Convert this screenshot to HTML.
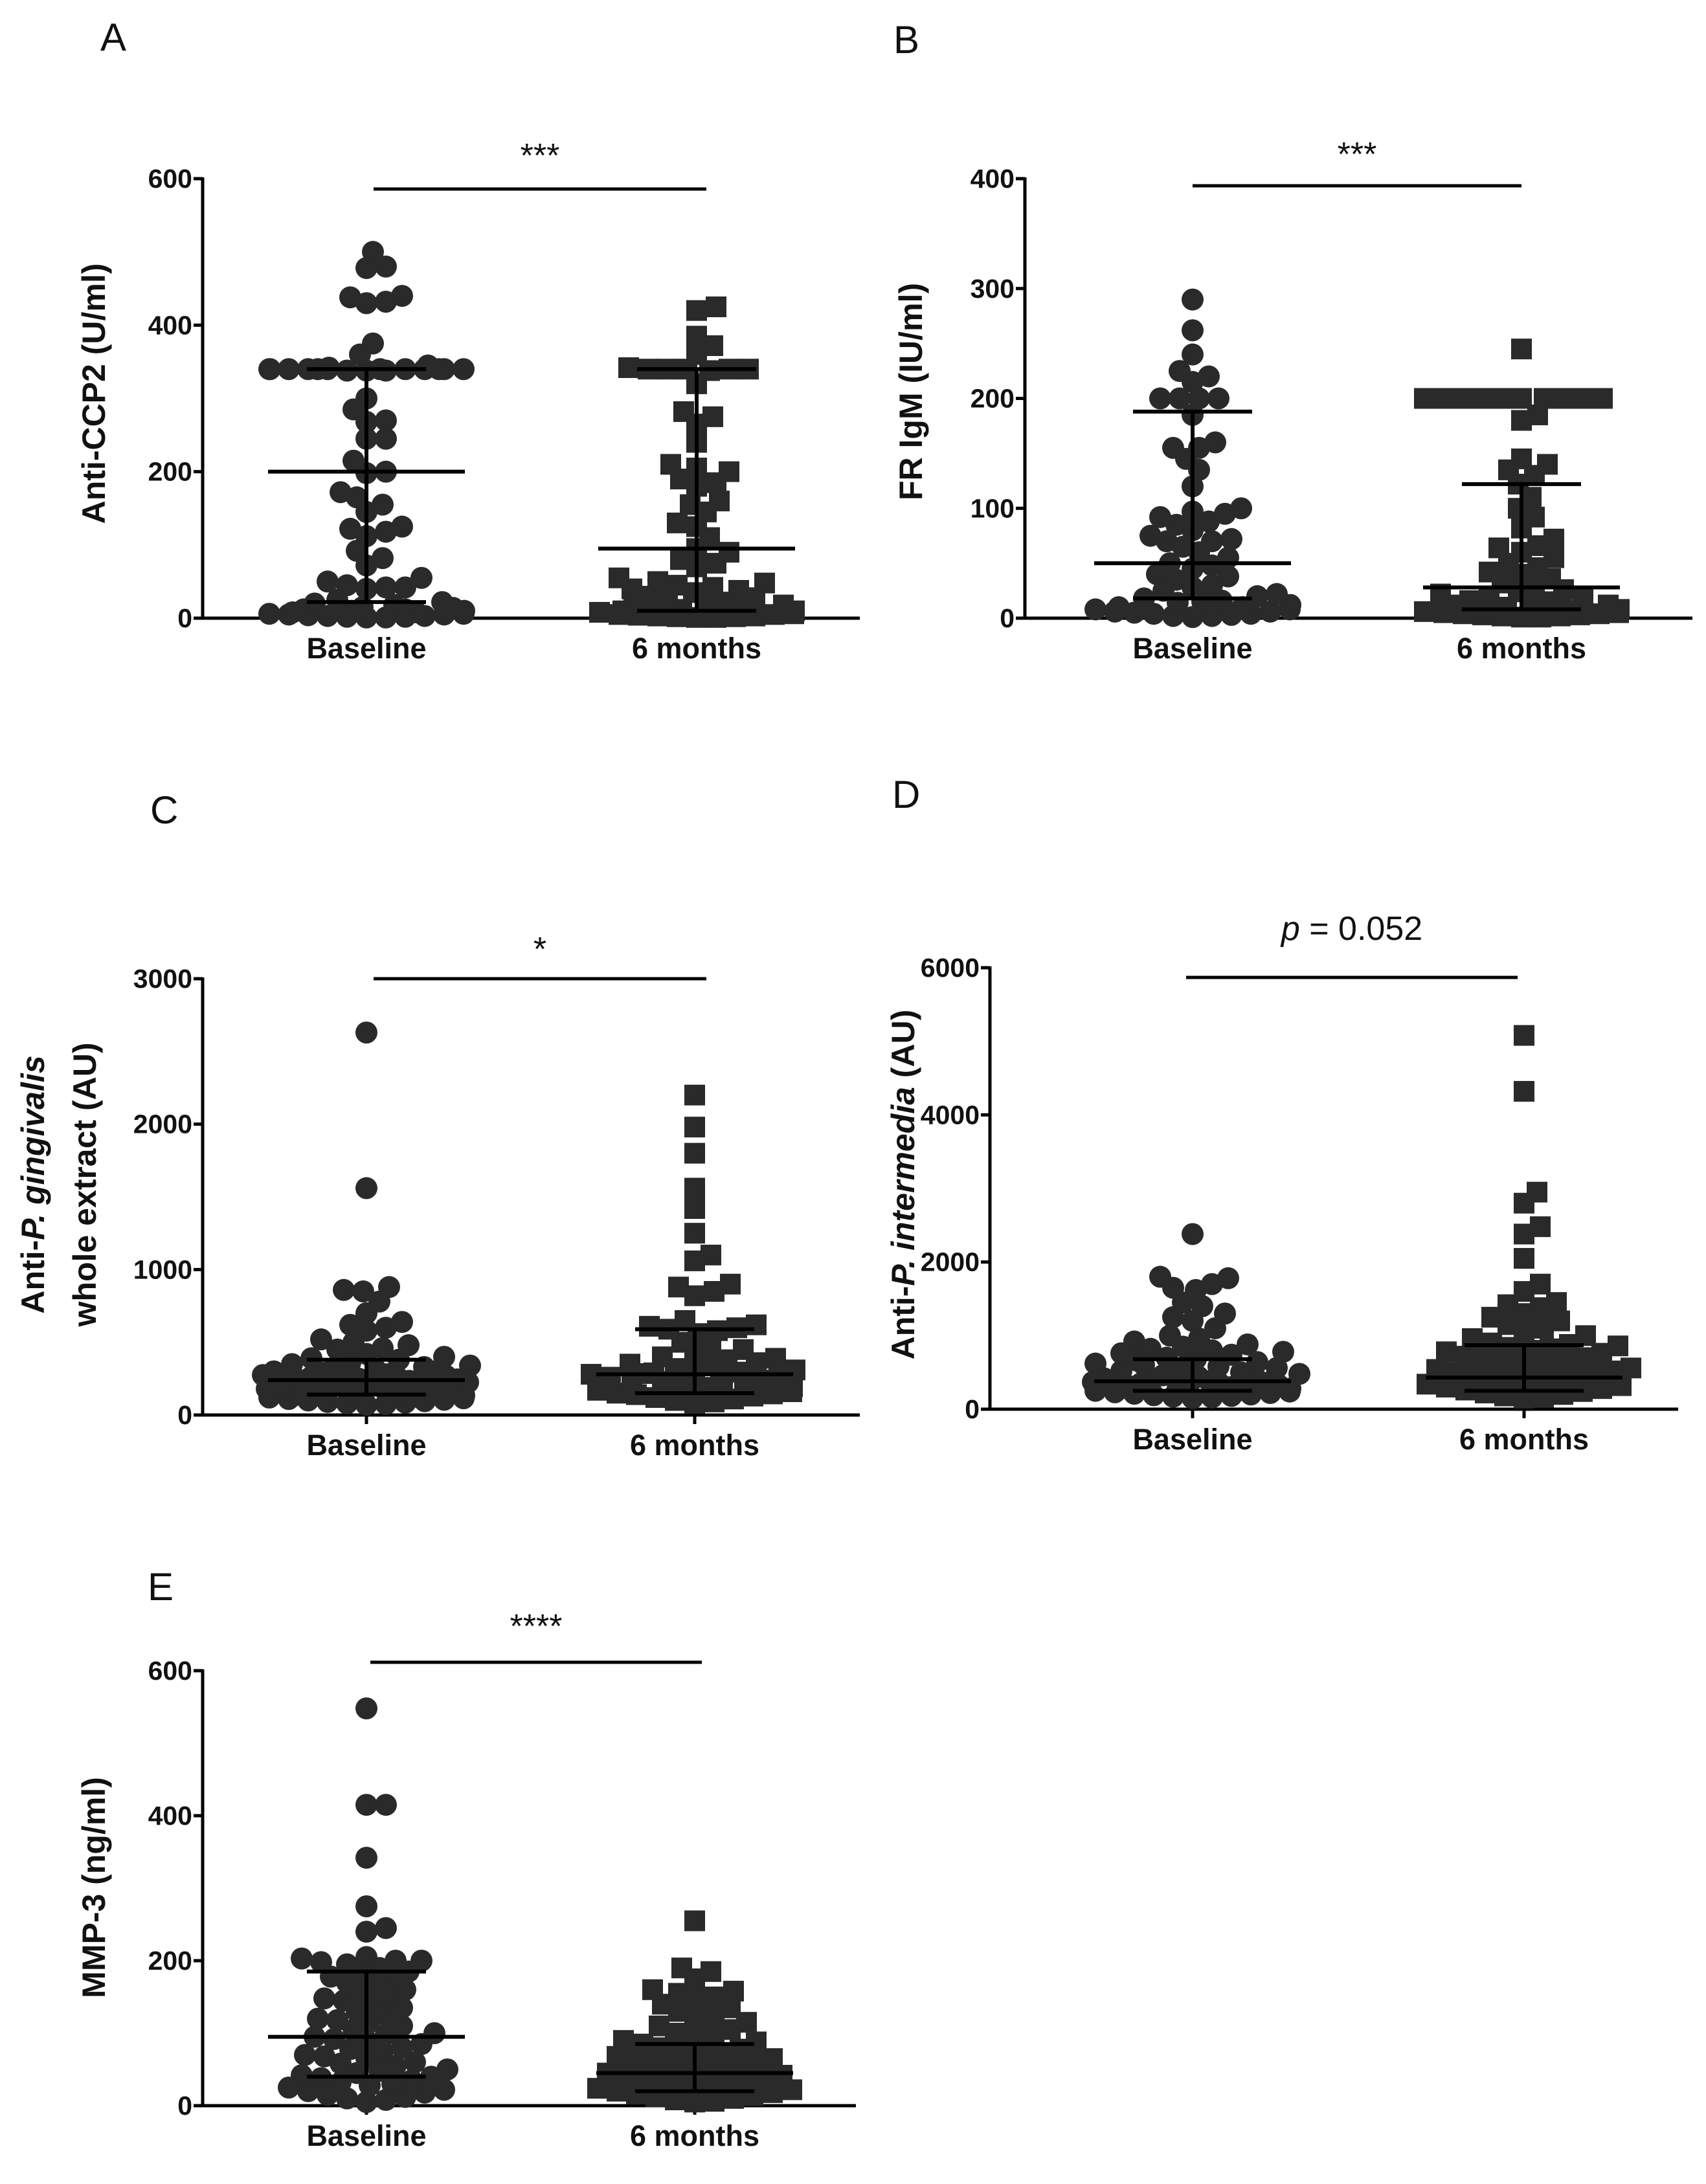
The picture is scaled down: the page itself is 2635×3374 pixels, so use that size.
<!DOCTYPE html>
<html><head><meta charset="utf-8">
<style>
html,body{margin:0;padding:0;background:#fff;}
svg{display:block;font-family:"Liberation Sans",Arial,sans-serif;}
</style></head>
<body>
<svg id="fig" width="2635" height="3374" viewBox="0 0 2635 3374" xmlns="http://www.w3.org/2000/svg"></svg>
<script>
// ---- Data ----
const categories = ["Baseline", "6 months"];
const ccpBaseline = [500,480,478,440,438,432,430,375,360,345,342,340,340,340,340,340,340,340,340,340,340,340,340,338,338,338,300,285,270,268,245,245,215,200,198,172,165,155,145,125,122,118,112,92,82,72,55,50,45,42,42,40,25,22,20,18,15,14,12,12,10,10,8,8,6,6,5,5,4,3,3,2,2,1,1];
const ccpMonths6 = [425,420,385,372,360,342,340,340,340,340,340,338,320,282,275,265,240,210,205,200,190,185,180,160,155,145,130,125,110,95,90,80,75,70,55,50,48,45,42,40,38,35,30,28,25,22,20,18,16,15,12,10,10,8,8,6,5,5,4,3,3,2,2,1,1];
const rfBaseline = [290,262,240,225,220,215,200,200,200,200,185,160,155,155,145,135,120,100,97,95,92,88,85,80,75,72,70,70,65,60,55,50,48,45,40,38,35,30,28,25,22,20,18,16,15,14,12,10,10,8,8,6,6,5,4,4,3,2,2,1];
const rfMonths6 = [245,200,200,200,200,200,200,200,200,200,200,185,180,145,140,135,130,122,110,100,92,82,72,66,64,60,55,50,46,42,40,36,32,30,26,24,22,20,18,16,15,14,12,12,10,10,8,8,7,6,5,5,4,4,3,3,2,2,1,1];
const pgBaseline = [2630,1560,880,860,850,780,700,640,620,600,580,520,500,480,460,450,420,400,390,380,360,350,340,330,320,310,300,300,290,280,275,270,260,255,250,245,240,235,230,225,220,215,210,205,200,195,190,185,180,175,170,165,160,155,150,145,140,135,130,125,120,115,110,105,100,95,90,85,80,75,70];
const pgMonths6 = [2200,1980,1800,1560,1420,1250,1100,1060,900,880,850,820,650,620,610,600,590,580,560,500,460,450,420,400,390,380,360,350,340,320,310,300,295,290,285,280,270,260,250,240,230,220,210,200,195,190,180,170,160,150,145,140,130,120,110,100,90,80];
const piBaseline = [2380,1800,1780,1700,1650,1620,1450,1400,1300,1250,1200,1100,1000,960,920,880,850,820,800,780,760,740,700,680,660,640,620,600,580,560,540,520,500,480,460,440,420,400,390,380,370,360,350,340,330,320,310,300,290,280,270,260,250,240,230,220,210,200,190,180,170,160,150];
const piMonths6 = [5080,4320,2950,2800,2480,2380,2050,1700,1600,1450,1420,1380,1300,1250,1200,1150,1100,1050,1000,960,900,880,860,840,820,800,780,760,720,700,680,650,620,600,580,560,540,520,500,480,460,440,420,400,380,360,340,320,300,280,260,240,220,200,180,160,150];
const mmpBaseline = [548,415,415,342,275,245,240,205,203,200,200,198,195,190,185,182,178,175,170,165,160,155,150,148,145,140,135,130,125,120,118,115,110,105,100,98,95,92,90,85,80,78,75,70,68,65,60,58,55,50,48,45,42,40,38,35,32,30,28,25,22,20,18,15,12,10,8,5];
const mmpMonths6 = [255,190,185,175,160,158,155,150,148,140,135,130,125,120,115,110,105,100,98,95,90,88,85,80,78,75,72,70,68,65,62,60,58,55,52,50,48,45,42,40,38,36,34,32,30,28,26,24,22,20,18,16,14,12,10,8,6,5];
const ticksA = [0,200,400,600], ticksB = [0,100,200,300,400], ticksC = [0,1000,2000,3000], ticksD = [0,2000,4000,6000], ticksE = [0,200,400,600];
// [median, upper, lower] per group
const statsA = [[200,340,22],[95,340,10]];
const statsB = [[50,188,18],[28,122,8]];
const statsC = [[240,380,140],[280,590,150]];
const statsD = [[380,680,250],[430,870,250]];
const statsE = [[95,185,40],[45,85,20]];

const NS = "http://www.w3.org/2000/svg";
const svg = document.getElementById("fig");
function mk(tag, attrs, parent) {
  const e = document.createElementNS(NS, tag);
  for (const k in attrs) e.setAttribute(k, attrs[k]);
  (parent || svg).appendChild(e);
  return e;
}
const INK = "#2a2a2a";

function panel(cfg) {
  const g = mk("g", {});
  
  
  const ymax = cfg.ticks[cfg.ticks.length - 1];
  const y = v => cfg.y0 - (v / ymax) * (cfg.y0 - cfg.yTop);
  const xc = i => cfg.cx[i];
  const L = mk("text", {x: cfg.letter[1], y: cfg.letter[2], "font-size": 60, fill: "#111"}, g);
  L.textContent = cfg.letter[0];
  
  
  const ya = mk("line", {x1: cfg.ax, x2: cfg.ax, y1: cfg.yTop - 2, y2: cfg.y0 + 2, stroke: "#000", "stroke-width": 5}, g);
  
  
  const xa = mk("line", {x1: cfg.ax, x2: cfg.xEnd, y1: cfg.y0, y2: cfg.y0, stroke: "#000", "stroke-width": 5}, g);
  
  
  cfg.ticks.forEach(t => {
    mk("line", {x1: cfg.ax - 14, x2: cfg.ax, y1: y(t), y2: y(t), stroke: "#000", "stroke-width": 5}, g);
    const tl = mk("text", {x: cfg.ax - 16, y: y(t) + 14, "font-size": 41, "font-weight": "bold", "text-anchor": "end", fill: "#111"}, g);
    tl.textContent = t;
    
    
  });
  categories.forEach((c, i) => {
    mk("line", {x1: xc(i), x2: xc(i), y1: cfg.y0, y2: cfg.y0 + 14, stroke: "#000", "stroke-width": 5}, g);
    const cl = mk("text", {x: xc(i), y: cfg.y0 + 62, "font-size": 45, "font-weight": "bold", "text-anchor": "middle", fill: "#111"}, g);
    cl.textContent = c;
    
    
  });
  cfg.ytitle.forEach(tt => {
    const t = mk("text", {transform: `translate(${tt.x},${cfg.ty}) rotate(-90)`, "font-size": 50, "font-weight": "bold", "text-anchor": "middle", fill: "#111"}, g);
    t.innerHTML = tt.html;
    
    
  });
  const R = 17;
  cfg.series.forEach((vals, i) => {
    const placed = [];
    const sorted = vals.slice().sort((a, b) => a - b);
    sorted.forEach(v => {
      const py = y(v);
      let best = 0, found = false;
      for (let k = 0; k < 40 && !found; k++) {
        const cands = k === 0 ? [0] : [k * 5, -k * 5];
        for (const off of cands) {
          if (Math.abs(off) > cfg.maxw) continue;
          if (placed.every(p => Math.hypot(p[0] - off, p[1] - py) >= 2 * R - 8)) { best = off; found = true; break; }
        }
      }
      if (!found) best = (placed.length % 2 ? 1 : -1) * Math.floor((placed.length * 37) % cfg.maxw);
      placed.push([best, py]);
      let m;
      if (i === 0) m = mk("circle", {cx: xc(i) + best, cy: py, r: R, fill: INK}, g);
      else m = mk("rect", {x: xc(i) + best - 16, y: py - 16, width: 32, height: 32, fill: INK}, g);
      
      
    });
  });
  cfg.stats.forEach((s, i) => {
    const x = xc(i);
    const eb = mk("g", {stroke: "#000", "stroke-width": 6}, g);
    
    
    mk("line", {x1: x - 152, x2: x + 152, y1: y(s[0]), y2: y(s[0])}, eb);
    mk("line", {x1: x, x2: x, y1: y(s[1]), y2: y(s[2])}, eb);
    mk("line", {x1: x - 92, x2: x + 92, y1: y(s[1]), y2: y(s[1])}, eb);
    mk("line", {x1: x - 92, x2: x + 92, y1: y(s[2]), y2: y(s[2])}, eb);
  });
  const sl = mk("line", {x1: cfg.sig[0], x2: cfg.sig[1], y1: cfg.sig[2], y2: cfg.sig[2], stroke: "#000", "stroke-width": 5}, g);
  
  
  const st = mk("text", {x: (cfg.sig[0] + cfg.sig[1]) / 2, y: cfg.sig[3], "font-size": cfg.sigSize || 52, "text-anchor": "middle", fill: "#111"}, g);
  st.innerHTML = cfg.sigText;
  
  
}

panel({name: "panel-a", letter: ["A", 155, 78], ax: 313, yTop: 276, y0: 955, xEnd: 1328, cx: [566, 1076], ticks: ticksA,
  ytitle: [{x: 162, html: "Anti-CCP2 (U/ml)"}], ty: 608, series: [ccpBaseline, ccpMonths6], stats: statsA, maxw: 165,
  sig: [577, 1091, 292, 258], sigText: "***"});
panel({name: "panel-b", letter: ["B", 1380, 82], ax: 1583, yTop: 276, y0: 955, xEnd: 2614, cx: [1842, 2350], ticks: ticksB,
  ytitle: [{x: 1424, html: "FR IgM (IU/ml)"}], ty: 605, series: [rfBaseline, rfMonths6], stats: statsB, maxw: 165,
  sig: [1842, 2350, 287, 256], sigText: "***"});
panel({name: "panel-c", letter: ["C", 232, 1272], ax: 313, yTop: 1512, y0: 2186, xEnd: 1328, cx: [566, 1073], ticks: ticksC,
  ytitle: [{x: 68, html: "Anti-<tspan font-style='italic'>P. gingivalis</tspan>"}, {x: 148, html: "whole extract (AU)"}], ty: 1830,
  series: [pgBaseline, pgMonths6], stats: statsC, maxw: 165, sig: [577, 1091, 1512, 1484], sigText: "*"});
panel({name: "panel-d", letter: ["D", 1378, 1248], ax: 1529, yTop: 1495, y0: 2177, xEnd: 2592, cx: [1842, 2354], ticks: ticksD,
  ytitle: [{x: 1412, html: "Anti-<tspan font-style='italic'>P. intermedia</tspan>  (AU)"}], ty: 1830,
  series: [piBaseline, piMonths6], stats: statsD, maxw: 165, sig: [1832, 2344, 1510, 1452], sigText: "<tspan font-style='italic'>p</tspan> = 0.052", sigSize: 52});
panel({name: "panel-e", letter: ["E", 228, 2472], ax: 313, yTop: 2581, y0: 3253, xEnd: 1322, cx: [566, 1073], ticks: ticksE,
  ytitle: [{x: 162, html: "MMP-3 (ng/ml)"}], ty: 2916, series: [mmpBaseline, mmpMonths6], stats: statsE, maxw: 165,
  sig: [572, 1084, 2568, 2530], sigText: "****"});
</script>
</body></html>
